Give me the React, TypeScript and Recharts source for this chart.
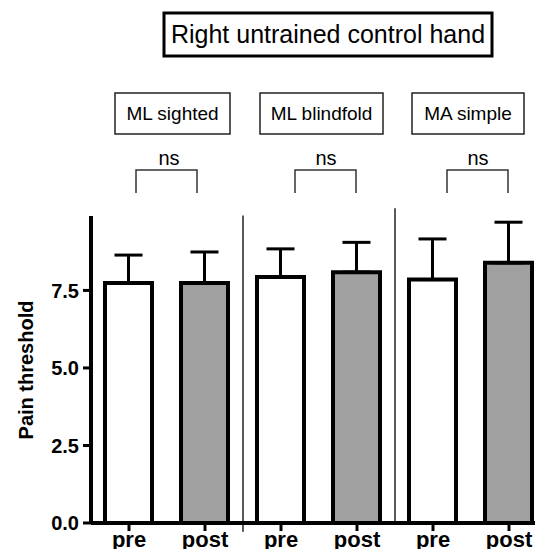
import React from 'react';
import { BarChart, Bar, Cell, XAxis, YAxis, ErrorBar, ReferenceLine } from 'recharts';

const categories = ['pre', 'post', 'pre', 'post', 'pre', 'post'];
const means = [7.74, 7.74, 7.93, 8.09, 7.85, 8.39];
const errors = [0.9, 1.0, 0.91, 0.96, 1.31, 1.31];
const groups = ['ML sighted', 'ML blindfold', 'MA simple'];
const significance = ['ns', 'ns', 'ns'];
const yTicks = [0, 2.5, 5, 7.5];
const dividers = [2, 4];

const FONT = '"Liberation Sans", Arial, sans-serif';

const data = categories.map((c, i) => ({
  x: i + 0.5,
  label: c,
  value: means[i],
  err: [0, errors[i]],
}));

// annotation layout (pixels)
const groupBoxes = [
  { x: 115, w: 115 },
  { x: 260, w: 123 },
  { x: 412, w: 112 },
];
const brackets = [
  { x1: 136, x2: 197, tx: 169 },
  { x1: 295, x2: 356, tx: 326 },
  { x1: 447, x2: 508, tx: 478 },
];

export default function App() {
  return (
    <div style={{ position: 'relative', width: 543, height: 557, margin: -8, overflow: 'hidden', background: '#fff', fontFamily: FONT }}>
      <BarChart width={560} height={557} data={data} margin={{ top: 216, right: 13, bottom: 4, left: 31 }}>
        <XAxis
          dataKey="x"
          type="number"
          domain={[0, 6]}
          ticks={data.map((d) => d.x)}
          tickFormatter={(v: number) => categories[Math.round(v - 0.5)]}
          height={30}
          axisLine={{ stroke: '#000', strokeWidth: 4 }}
          tickLine={{ stroke: '#000', strokeWidth: 3 }}
          tickSize={8}
          tickMargin={0}
          tick={{ fill: '#000', fontSize: 22, fontWeight: 'bold', fontFamily: FONT }}
        />
        <YAxis
          domain={[0, 9.9]}
          ticks={yTicks}
          tickFormatter={(v: number) => v.toFixed(1)}
          width={60}
          axisLine={{ stroke: '#000', strokeWidth: 4 }}
          tickLine={{ stroke: '#000', strokeWidth: 3 }}
          tickSize={8}
          tickMargin={4}
          tick={{ fill: '#000', fontSize: 20, fontWeight: 'bold', fontFamily: FONT }}
        />
        {dividers.map((d, i) => (
          <ReferenceLine
            key={d}
            segment={[{ x: d, y: i === 0 ? -0.28 : 0 }, { x: d, y: i === 0 ? 9.92 : 10.15 }]}
            ifOverflow="visible"
            stroke="#222"
            strokeWidth={1.5}
          />
        ))}
        <Bar dataKey="value" barSize={47} stroke="#000" strokeWidth={4} isAnimationActive={false}>
          {data.map((d, i) => (
            <Cell key={i} fill={d.label === 'pre' ? '#ffffff' : '#a0a0a0'} />
          ))}
          <ErrorBar dataKey="err" width={14} stroke="#000" strokeWidth={3} direction="y" isAnimationActive={false} />
        </Bar>
      </BarChart>
      <svg width={543} height={557} style={{ position: 'absolute', left: 0, top: 0, pointerEvents: 'none' }}>
        <rect x={164} y={13} width={328} height={43} fill="none" stroke="#000" strokeWidth={3} />
        <text x={328} y={43} textAnchor="middle" fontSize={25} fontFamily={FONT} fill="#000">
          Right untrained control hand
        </text>
        {groups.map((g, i) => (
          <g key={g}>
            <rect x={groupBoxes[i].x} y={93} width={groupBoxes[i].w} height={41} fill="none" stroke="#222" strokeWidth={1.5} />
            <text x={groupBoxes[i].x + groupBoxes[i].w / 2} y={120} textAnchor="middle" fontSize={19} fontFamily={FONT} fill="#000">
              {g}
            </text>
            <text x={brackets[i].tx} y={165} textAnchor="middle" fontSize={20} fontFamily={FONT} fill="#000">
              {significance[i]}
            </text>
            <polyline
              points={`${brackets[i].x1},193 ${brackets[i].x1},170 ${brackets[i].x2},170 ${brackets[i].x2},193`}
              fill="none"
              stroke="#333"
              strokeWidth={1.5}
            />
          </g>
        ))}
        <text
          x={33}
          y={370}
          transform="rotate(-90 33 370)"
          textAnchor="middle"
          fontSize={20}
          fontWeight="bold"
          fontFamily={FONT}
          fill="#000"
        >
          Pain threshold
        </text>
      </svg>
    </div>
  );
}
